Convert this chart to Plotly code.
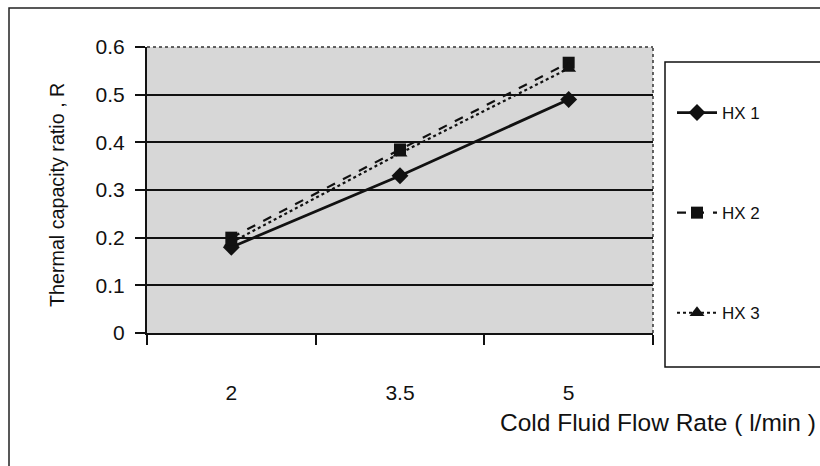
import plotly.graph_objects as go

flow_rates = ["2", "3.5", "5"]
hx1 = [0.18, 0.33, 0.49]
hx2 = [0.20, 0.385, 0.567]
hx3 = [0.19, 0.377, 0.555]
y_ticks = [0, 0.1, 0.2, 0.3, 0.4, 0.5, 0.6]
y_tick_text = ["0", "0.1", "0.2", "0.3", "0.4", "0.5", "0.6"]

FONT = "Liberation Sans, Arial, sans-serif"
INK = "#111111"

W, H = 820, 466
L, R, T, B = 147, 167, 47, 133
pw, ph = W - L - R, H - T - B

def px_x(x):
    return (x - L) / pw

def px_y(y):
    return (H - B - y) / ph

fig = go.Figure()
fig.add_trace(go.Scatter(x=flow_rates, y=hx1, name="HX 1", mode="lines+markers",
                         line=dict(color=INK, width=2.8, dash="solid"),
                         marker=dict(symbol="diamond", size=13, color=INK),
                         legendgroup="1"))
fig.add_trace(go.Scatter(x=flow_rates, y=hx2, name="HX 2", mode="lines+markers",
                         line=dict(color=INK, width=2.2, dash="dash"),
                         marker=dict(symbol="square", size=12, color=INK),
                         legendgroup="2"))
fig.add_trace(go.Scatter(x=flow_rates, y=hx3, name="HX 3", mode="lines+markers",
                         line=dict(color=INK, width=2.2, dash="dot"),
                         marker=dict(symbol="triangle-up", size=13, color=INK),
                         legendgroup="3"))

fig.update_layout(
    width=W, height=H,
    margin=dict(l=L, r=R, t=T, b=B),
    paper_bgcolor="white",
    plot_bgcolor="#d7d7d7",
    font=dict(family=FONT, color=INK, size=21),
    showlegend=True,
    legend=dict(x=px_x(672), xanchor="left", y=px_y(95), yanchor="top",
                bgcolor="rgba(0,0,0,0)", borderwidth=0,
                font=dict(size=17, family=FONT, color=INK),
                tracegroupgap=75, itemwidth=40),
    xaxis=dict(type="category", range=[-0.5, 2.5], tickson="boundaries",
               ticks="outside", ticklen=10, tickwidth=1.5, tickcolor=INK,
               showline=True, linecolor=INK, linewidth=2, showgrid=False,
               ticklabelstandoff=40, tickfont=dict(size=21)),
    yaxis=dict(range=[0, 0.6], tickvals=y_ticks, ticktext=y_tick_text,
               ticks="outside", ticklen=10, tickwidth=1.5, tickcolor=INK,
               showline=True, linecolor=INK, linewidth=2,
               showgrid=True, gridcolor=INK, gridwidth=1.5,
               zeroline=False, ticklabelstandoff=6, tickfont=dict(size=21)),
    shapes=[
        # dotted plot-area border (top and right)
        dict(type="line", xref="paper", yref="paper", x0=0, x1=1, y0=1, y1=1,
             line=dict(color="#333333", width=1.5, dash="dot")),
        dict(type="line", xref="paper", yref="paper", x0=1, x1=1, y0=0, y1=1,
             line=dict(color="#333333", width=1.5, dash="dot")),
        # legend box
        dict(type="rect", xref="paper", yref="paper",
             x0=px_x(665), x1=px_x(830), y0=px_y(367), y1=px_y(62),
             line=dict(color=INK, width=1.5), fillcolor="rgba(0,0,0,0)", layer="below"),
        # outer chart border
        dict(type="rect", xref="paper", yref="paper",
             x0=px_x(9), x1=px_x(830), y0=px_y(480), y1=px_y(8),
             line=dict(color="#222222", width=1.5), fillcolor="rgba(0,0,0,0)", layer="below"),
    ],
    annotations=[
        dict(text="Cold Fluid Flow Rate ( l/min )", xref="paper", yref="paper",
             x=px_x(818), xanchor="right", y=px_y(423), yanchor="middle",
             showarrow=False, font=dict(size=24.5, family=FONT, color=INK)),
        dict(text="Thermal capacity ratio , R", xref="paper", yref="paper",
             x=px_x(57), xanchor="center", y=px_y(195), yanchor="middle",
             textangle=-90, showarrow=False, font=dict(size=19.7, family=FONT, color=INK)),
    ],
)

fig.write_html("out.html")
